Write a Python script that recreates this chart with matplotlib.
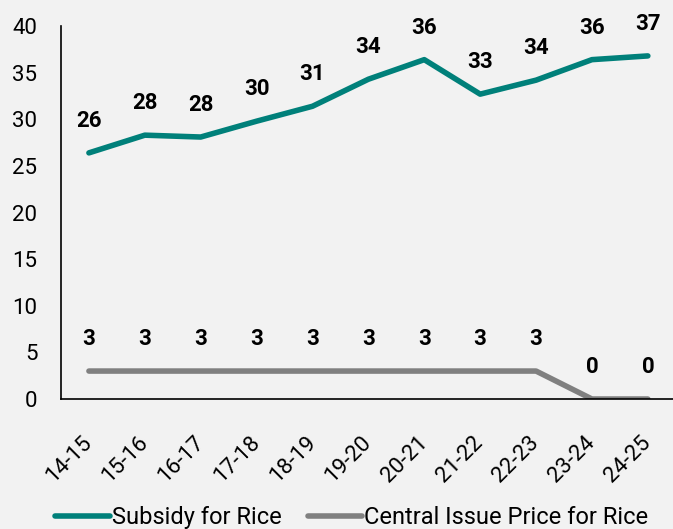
import matplotlib.pyplot as plt

plt.rcParams['font.family'] = ['Roboto', 'DejaVu Sans']

years = ['14-15', '15-16', '16-17', '17-18', '18-19', '19-20',
         '20-21', '21-22', '22-23', '23-24', '24-25']
subsidy = [26.4, 28.3, 28.1, 29.8, 31.4, 34.3, 36.4, 32.7, 34.2, 36.4, 36.8]
issue_price = [3, 3, 3, 3, 3, 3, 3, 3, 3, 0, 0]

bg = '#f2f2f2'
teal = '#00807a'
grey = '#808080'

fig = plt.figure(figsize=(6.73, 5.29), dpi=100, facecolor=bg)
ax = fig.add_axes([0.0906, 0.2457, 0.9094, 0.705], facecolor=bg)

x = list(range(len(years)))
ax.plot(x, subsidy, color=teal, lw=4, solid_capstyle='round', label='Subsidy for Rice')
ax.plot(x, issue_price, color=grey, lw=4, solid_capstyle='round',
        label='Central Issue Price for Rice')

# data labels
for xi, v in zip(x, subsidy):
    ax.annotate(f'{v:.0f}', (xi, v), xytext=(0, 23), textcoords='offset points',
                ha='center', va='center', fontsize=16, fontweight='bold')
for xi, v in zip(x, issue_price):
    ax.annotate(f'{v:.0f}', (xi, v), xytext=(0, 23), textcoords='offset points',
                ha='center', va='center', fontsize=16, fontweight='bold')

ax.set_xlim(-0.5, 10.45)
ax.set_ylim(0, 40)
ax.set_yticks(range(0, 41, 5))
ax.set_xticks(x)
ax.set_xticklabels(years, rotation=45, ha='right', va='center', rotation_mode='anchor')
ax.tick_params(axis='both', length=0, labelsize=16)
ax.tick_params(axis='y', pad=17)
ax.tick_params(axis='x', pad=29)

for s in ['top', 'right']:
    ax.spines[s].set_visible(False)
for s in ['left', 'bottom']:
    ax.spines[s].set_color('black')
    ax.spines[s].set_linewidth(1.2)

fig.legend(loc='center', bbox_to_anchor=(0.523, 0.022), ncol=2, frameon=False,
           fontsize=17, handlelength=2.3, handletextpad=0.1, columnspacing=1.1)

fig.savefig('out.png', dpi=100, facecolor=bg)
